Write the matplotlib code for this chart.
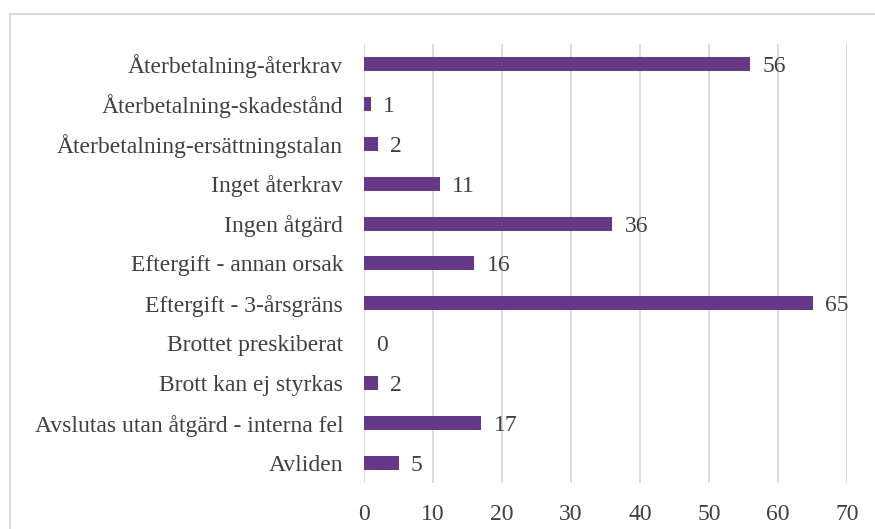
import matplotlib; matplotlib.use('Agg')

import matplotlib.pyplot as plt
from matplotlib.patches import Rectangle

categories = ["Avliden",
              "Avslutas utan åtgärd - interna fel",
              "Brott kan ej styrkas",
              "Brottet preskiberat",
              "Eftergift - 3-årsgräns",
              "Eftergift - annan orsak",
              "Ingen åtgärd",
              "Inget återkrav",
              "Återbetalning-ersättningstalan",
              "Återbetalning-skadestånd",
              "Återbetalning-återkrav"]
values = [5, 17, 2, 0, 65, 16, 36, 11, 2, 1, 56]
xticks = [0, 10, 20, 30, 40, 50, 60, 70]

plt.rcParams['font.family'] = ['Liberation Serif', 'DejaVu Serif']
textcol = '#404040'
barcol = '#673888'

fig = plt.figure(figsize=(8.75, 5.29), dpi=100)
ax = fig.add_axes([0.416, 0.087, 0.552, 0.83])

ypos = range(len(categories))
ax.barh(ypos, values, height=0.35, color=barcol, zorder=3)
for y, v in zip(ypos, values):
    ax.annotate(str(v), (v, y), xytext=(9, 0), textcoords='offset points',
                ha='left', va='center_baseline', fontsize=17, color=textcol)

ax.set_xlim(0, 70)
ax.set_ylim(-0.5, len(categories) - 0.5)
ax.set_xticks(xticks)
ax.set_yticks(list(ypos))
ax.set_yticklabels(categories)
ax.tick_params(axis='both', length=0, labelsize=17, labelcolor=textcol)
ax.tick_params(axis='x', pad=15)
ax.tick_params(axis='y', pad=15)
for lab in ax.get_yticklabels():
    lab.set_verticalalignment('center_baseline')
ax.grid(axis='x', color='#d9d9d9', linewidth=1.3, zorder=0)
for s in ax.spines.values():
    s.set_visible(False)

fig.patches.append(Rectangle((10 / 875, -0.1), 1.0, 1 - 14 / 529 + 0.1,
                             transform=fig.transFigure, fill=False,
                             edgecolor='#d9d9d9', linewidth=1.3))

plt.savefig("out.png")
